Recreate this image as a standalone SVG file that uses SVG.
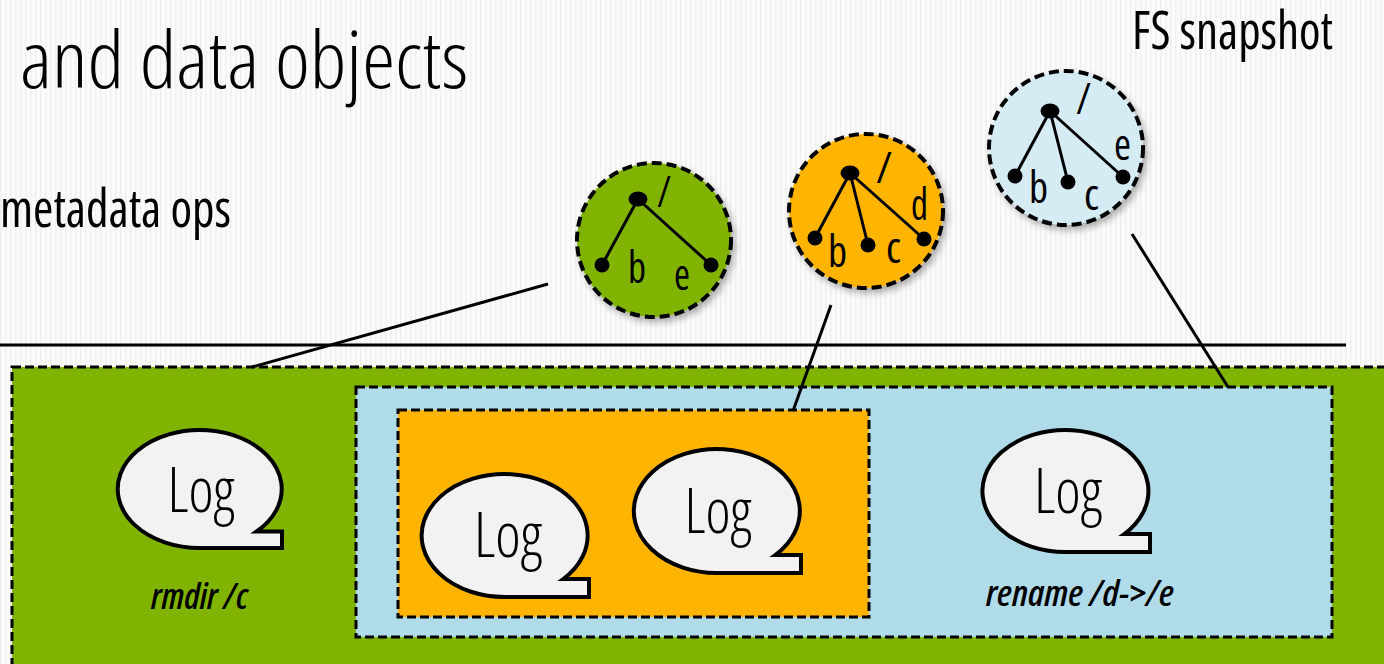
<svg xmlns="http://www.w3.org/2000/svg" width="1384" height="664" viewBox="0 0 1384 664">
  <defs>
    <pattern id="stripes" width="5" height="10" patternUnits="userSpaceOnUse">
      <rect width="5" height="10" fill="#fbfbfb"/>
      <rect width="1.5" height="10" fill="#f0f0f0"/>
    </pattern>
    <filter id="shadow" x="-20%" y="-20%" width="150%" height="150%">
      <feDropShadow dx="3" dy="4" stdDeviation="3" flood-color="#000" flood-opacity="0.3"/>
    </filter>
    <style>
      .txt { font-family: "Open Sans", "Liberation Sans", sans-serif; font-weight: 300; font-stretch: condensed; fill: #000; }
      .head { font-family: "Open Sans", "Liberation Sans", sans-serif; font-weight: 500; font-stretch: condensed; fill: #000; }
      .lbl { font-family: "Open Sans", "Liberation Sans", sans-serif; font-weight: 600; font-style: italic; font-stretch: condensed; font-size: 37px; fill: #000; }
      .box { stroke: #000; stroke-width: 3; stroke-dasharray: 9 4; }
      .snap { stroke: #000; stroke-width: 4; stroke-dasharray: 10 5; filter: url(#shadow); }
      .edge { stroke: #000; stroke-width: 3; fill: none; }
      .dot { fill: #000; }
      .leaf { font-family: "Open Sans", "Liberation Sans", sans-serif; font-weight: 400; font-stretch: condensed; font-size: 44px; fill: #000; }
      .bubble { fill: #f2f2f2; stroke: #000; stroke-width: 4; stroke-linejoin: miter; }
      .logtxt { font-family: "Open Sans", "Liberation Sans", sans-serif; font-weight: 300; font-stretch: condensed; font-size: 62px; fill: #000; text-anchor: middle; }
    </style>
  </defs>

  <!-- page background -->
  <rect width="1384" height="664" fill="url(#stripes)"/>

  <!-- headings -->
  <text class="txt" x="20" y="88" font-size="80" textLength="448" lengthAdjust="spacingAndGlyphs">and data objects</text>
  <text class="head" x="0" y="227" font-size="52" textLength="231" lengthAdjust="spacingAndGlyphs">metadata ops</text>
  <text class="head" x="1132" y="49" font-size="53" textLength="201" lengthAdjust="spacingAndGlyphs">FS snapshot</text>

  <!-- divider -->
  <line x1="0" y1="345" x2="1346" y2="345" stroke="#000" stroke-width="3"/>

  <!-- nested op scopes -->
  <g id="scope-all">
    <rect class="box" x="12" y="367" width="1390" height="320" fill="#80b400"/>
  </g>
  <g id="scope-rename">
    <rect class="box" x="356" y="387" width="976" height="250" fill="#b0dcea"/>
  </g>
  <g id="scope-inner">
    <rect class="box" x="398" y="410" width="471" height="207" fill="#ffb400"/>
  </g>

  <!-- connectors from snapshots to scopes -->
  <g id="connectors">
    <line class="edge" x1="548" y1="284" x2="252" y2="367"/>
    <line class="edge" x1="831" y1="305" x2="793" y2="411"/>
    <line class="edge" x1="1132" y1="234" x2="1228" y2="387"/>
  </g>

  <!-- log bubbles: ellipse with a square tail at the lower right -->
  <g id="log-rmdir">
    <path class="bubble" d="M256.6,531.5 H282 V548 H200 A82,59 0 1 1 256.6,531.5 Z"/>
    <text class="logtxt" x="201" y="512" textLength="67" lengthAdjust="spacingAndGlyphs">Log</text>
    <text class="lbl" x="151" y="609" textLength="97" lengthAdjust="spacingAndGlyphs">rmdir /c</text>
  </g>
  <g id="log-a">
    <path class="bubble" d="M563.3,579 H589 V597 H506 A83,61.5 0 1 1 563.3,579 Z"/>
    <text class="logtxt" x="508" y="557" textLength="68" lengthAdjust="spacingAndGlyphs">Log</text>
  </g>
  <g id="log-b">
    <path class="bubble" d="M775.3,555 H801 V573 H718 A83,62 0 1 1 775.3,555 Z"/>
    <text class="logtxt" x="718" y="533" textLength="67" lengthAdjust="spacingAndGlyphs">Log</text>
  </g>
  <g id="log-rename">
    <path class="bubble" d="M1124.3,534 H1150 V552 H1067 A83,61 0 1 1 1124.3,534 Z"/>
    <text class="logtxt" x="1068" y="513" textLength="68" lengthAdjust="spacingAndGlyphs">Log</text>
    <text class="lbl" x="986" y="606" textLength="188" lengthAdjust="spacingAndGlyphs">rename /d-&gt;/e</text>
  </g>

  <!-- snapshot trees -->
  <g id="snap-green">
    <circle class="snap" cx="654" cy="240" r="77" fill="#80b400"/>
    <line class="edge" x1="638" y1="199" x2="602" y2="265"/>
    <line class="edge" x1="638" y1="199" x2="711" y2="265"/>
    <ellipse class="dot" cx="638" cy="199" rx="9.5" ry="7.5"/>
    <circle class="dot" cx="602" cy="265" r="7.5"/>
    <circle class="dot" cx="711" cy="265" r="7.5"/>
    <text class="leaf" x="657" y="207" textLength="14" lengthAdjust="spacingAndGlyphs">/</text>
    <text class="leaf" x="628" y="283" textLength="18" lengthAdjust="spacingAndGlyphs">b</text>
    <text class="leaf" x="674" y="290" textLength="16" lengthAdjust="spacingAndGlyphs">e</text>
  </g>
  <g id="snap-orange">
    <circle class="snap" cx="866" cy="211" r="77" fill="#ffb400"/>
    <line class="edge" x1="850" y1="173" x2="815" y2="238"/>
    <line class="edge" x1="850" y1="173" x2="868" y2="245"/>
    <line class="edge" x1="850" y1="173" x2="924" y2="239"/>
    <ellipse class="dot" cx="850" cy="173" rx="9.5" ry="7.5"/>
    <circle class="dot" cx="815" cy="238" r="7.5"/>
    <circle class="dot" cx="868" cy="245" r="7.5"/>
    <circle class="dot" cx="924" cy="239" r="7.5"/>
    <text class="leaf" x="876" y="183" textLength="16" lengthAdjust="spacingAndGlyphs">/</text>
    <text class="leaf" x="828" y="267" textLength="19" lengthAdjust="spacingAndGlyphs">b</text>
    <text class="leaf" x="886" y="263" textLength="15" lengthAdjust="spacingAndGlyphs">c</text>
    <text class="leaf" x="911" y="220" font-size="38" textLength="17" lengthAdjust="spacingAndGlyphs">d</text>
  </g>
  <g id="snap-blue">
    <circle class="snap" cx="1066" cy="148" r="77" fill="#d5ecf5"/>
    <line class="edge" x1="1050" y1="111" x2="1015" y2="176"/>
    <line class="edge" x1="1050" y1="111" x2="1068" y2="182"/>
    <line class="edge" x1="1050" y1="111" x2="1123" y2="177"/>
    <ellipse class="dot" cx="1050" cy="111" rx="9.5" ry="7.5"/>
    <circle class="dot" cx="1015" cy="176" r="7.5"/>
    <circle class="dot" cx="1068" cy="182" r="7.5"/>
    <circle class="dot" cx="1123" cy="177" r="7.5"/>
    <text class="leaf" x="1076" y="114" textLength="15" lengthAdjust="spacingAndGlyphs">/</text>
    <text class="leaf" x="1029" y="203" textLength="19" lengthAdjust="spacingAndGlyphs">b</text>
    <text class="leaf" x="1084" y="210" textLength="15" lengthAdjust="spacingAndGlyphs">c</text>
    <text class="leaf" x="1114" y="160" textLength="17" lengthAdjust="spacingAndGlyphs">e</text>
  </g>
</svg>
